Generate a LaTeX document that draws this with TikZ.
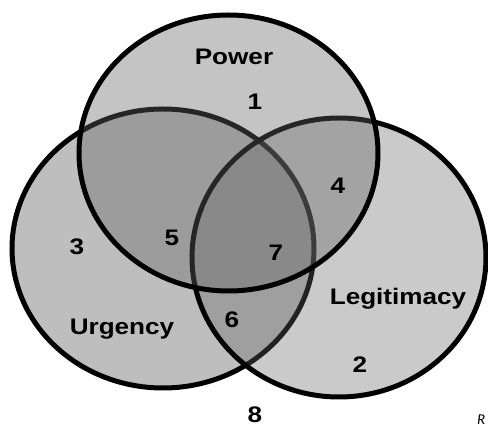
\documentclass[tikz,border=0pt]{standalone}
\usepackage{fontspec}
\setmainfont[FakeStretch=1.16]{Liberation Sans}
\newfontfamily\notefont{Carlito}
\begin{document}
\begin{tikzpicture}[x=1pt,y=-1pt,
  setfill/.style={fill=black!60,fill opacity=#1},
  setline/.style={draw=black,line width=5pt},
  lbl/.style={font=\fontsize{22.5}{22.5}\selectfont\bfseries,inner sep=0pt,anchor=base},
  num/.style={lbl}]
  \fill[white] (0,0) rectangle (488,427);
  \useasboundingbox (0,0) rectangle (488,427);
  % the three sets, each fill laid over the earlier outlines
  \fill[setfill=0.42] (163,248.5) ellipse [x radius=151,y radius=139.5];
  \draw[setline] (163,248.5) ellipse [x radius=151,y radius=139.5];
  \fill[setfill=0.34] (339,257.5) ellipse [x radius=147,y radius=139.5];
  \draw[setline] (339,257.5) ellipse [x radius=147,y radius=139.5];
  \fill[setfill=0.38] (228.5,153) ellipse [x radius=149.5,y radius=138];
  \draw[setline] (228.5,153) ellipse [x radius=149.5,y radius=138];
  % set names
  \node[lbl] (power) at (234,65) {Power};
  \node[lbl] (urgency) at (122,335) {Urgency};
  \node[lbl] (legit) at (398,305) {Legitimacy};
  % region numbers
  \node[num] (n1) at (255,110) {1};
  \node[num] (n2) at (360,373) {2};
  \node[num] (n3) at (77,255) {3};
  \node[num] (n4) at (338,194) {4};
  \node[num] (n5) at (172,246) {5};
  \node[num] (n6) at (232,328) {6};
  \node[num] (n7) at (276,261) {7};
  \node[num] (n8) at (255,423) {8};
  \node[font=\notefont\itshape\fontsize{15}{15}\selectfont,inner sep=0pt,anchor=base west] (note) at (477,424.5) {R};
\end{tikzpicture}
\end{document}
